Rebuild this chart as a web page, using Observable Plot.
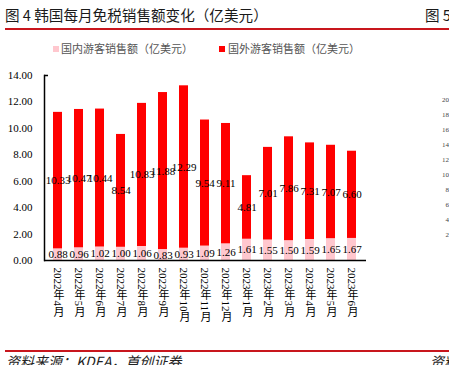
<!DOCTYPE html>
<html><head><meta charset="utf-8">
<script src="https://cdn.jsdelivr.net/npm/d3@7"></script>
<script src="https://cdn.jsdelivr.net/npm/@observablehq/plot@0.6"></script>
<style>
body{margin:0;background:#fff;width:449px;height:365px;overflow:hidden;position:relative;font-family:"Noto Sans CJK SC",sans-serif;}
.abs{position:absolute;white-space:nowrap;}
</style></head><body>
<div id="chart" class="abs" style="left:0;top:0"></div>
<div class="abs" id="title" style="left:5px;top:7px;font-size:14.6px;line-height:16px;color:#1a1a1a;"></div>
<div class="abs" id="title2" style="left:425px;top:7px;font-size:14.6px;line-height:16px;color:#1a1a1a;"></div>
<div class="abs" style="left:5px;top:28px;width:444px;height:2px;background:#c8161d;"></div>
<div class="abs" id="legend" style="left:0;top:0;"></div>
<div class="abs" id="rightTicks" style="left:0;top:0;"></div>
<div class="abs" style="left:5px;top:350px;width:444px;height:2px;background:#c8161d;"></div>
<div class="abs" id="source" style="left:6px;top:353px;font-size:14px;line-height:16px;font-style:italic;color:#222;"></div>
<div class="abs" id="source2" style="left:430px;top:353px;font-size:14px;line-height:16px;font-style:italic;color:#222;"></div>
<script>
const titleText = "图 4 韩国每月免税销售额变化（亿美元）";
const nextTitleText = "图 5";
const sourceText = "资料来源：KDEA，首创证券";
const nextSourceText = "资料";
const seriesNames = ["国内游客销售额（亿美元）", "国外游客销售额（亿美元）"];
const seriesColors = ["#ffc7ce", "#ff0000"];
const months = ["2022年4月","2022年5月","2022年6月","2022年7月","2022年8月","2022年9月","2022年10月","2022年11月","2022年12月","2023年1月","2023年2月","2023年3月","2023年4月","2023年5月","2023年6月"];
const domestic = [0.88,0.96,1.02,1.00,1.06,0.83,0.93,1.09,1.26,1.61,1.55,1.50,1.59,1.65,1.67];
const foreign = [10.33,10.47,10.44,8.54,10.83,11.88,12.29,9.54,9.11,4.81,7.01,7.86,7.31,7.07,6.60];
const yTicks = [0,2,4,6,8,10,12,14];
const rightTickLabels = ["20","18","16","14","12","10","8","6","4","2"];

document.getElementById("title").textContent = titleText;
document.getElementById("title2").textContent = nextTitleText;
document.getElementById("source").textContent = sourceText;
document.getElementById("source2").textContent = nextSourceText;

// legend
const legendPos = [[53,61],[219,228]];
document.getElementById("legend").innerHTML = seriesNames.map((s,i)=>
  `<div class="abs" style="left:${legendPos[i][0]}px;top:46px;width:6px;height:6px;background:${seriesColors[i]}"></div>`+
  `<div class="abs" style="left:${legendPos[i][1]}px;top:41px;font-size:11px;line-height:14px;color:#555">${s}</div>`).join("");

// partial neighbouring chart tick labels
document.getElementById("rightTicks").innerHTML = rightTickLabels.map((t,i)=>
  `<div class="abs" style="left:431px;top:${96 + i*15}px;width:18px;text-align:right;font-family:'Liberation Serif',serif;font-size:7px;line-height:9px;color:#444">${t}</div>`).join("");

const rows = [];
months.forEach((m,i)=>{
  rows.push({month:m, series:seriesNames[0], y1:0, y2:domestic[i], mid:domestic[i]/2, value:domestic[i]});
  rows.push({month:m, series:seriesNames[1], y1:domestic[i], y2:domestic[i]+foreign[i], mid:domestic[i]+foreign[i]/2, value:foreign[i]});
});

const serif = '"Liberation Serif", "Noto Sans CJK SC", serif';
const plot = Plot.plot({
  width: 449, height: 365,
  marginLeft: 44, marginRight: 83, marginTop: 75, marginBottom: 105,
  style: {fontFamily: serif, fontSize: "11px", color: "#000", background: "transparent"},
  x: {domain: months, paddingInner: 0.565, paddingOuter: 0.2825, axis: null},
  y: {domain: [0, 14], axis: null},
  color: {domain: seriesNames, range: seriesColors},
  marks: [
    Plot.barY(rows, {x: "month", y1: "y1", y2: "y2", fill: "series"}),
    Plot.text(rows, {x: "month", y: "mid", text: d => d.value.toFixed(2), fill: "#000", fontSize: 11, fontFamily: serif}),
    Plot.axisY({ticks: yTicks, tickFormat: d3.format(".2f"), tickSize: 0, tickPadding: 12, fontSize: 11, fontFamily: serif, label: null}),
    Plot.axisY({ticks: [14], tickSize: -4, tickFormat: () => "", strokeWidth: 1.5, label: null}),
    Plot.frame({anchor: "left", stroke: "#000", strokeWidth: 1.5}),
    Plot.ruleY([0], {stroke: "#000", strokeWidth: 1.5}),
    Plot.text(months, {x: d => d, frameAnchor: "bottom", dy: 7, text: d => d, fill: "#000", fontSize: 11, fontFamily: serif})
  ]
});
document.getElementById("chart").appendChild(plot);
plot.querySelectorAll("text").forEach(t => {
  if (!months.includes(t.textContent)) return;
  t.removeAttribute("dy");
  t.setAttribute("text-anchor", "start");
  t.setAttribute("writing-mode", "vertical-rl");
  t.style.writingMode = "vertical-rl";
  t.style.textAnchor = "start";
});
</script>
</body></html>
